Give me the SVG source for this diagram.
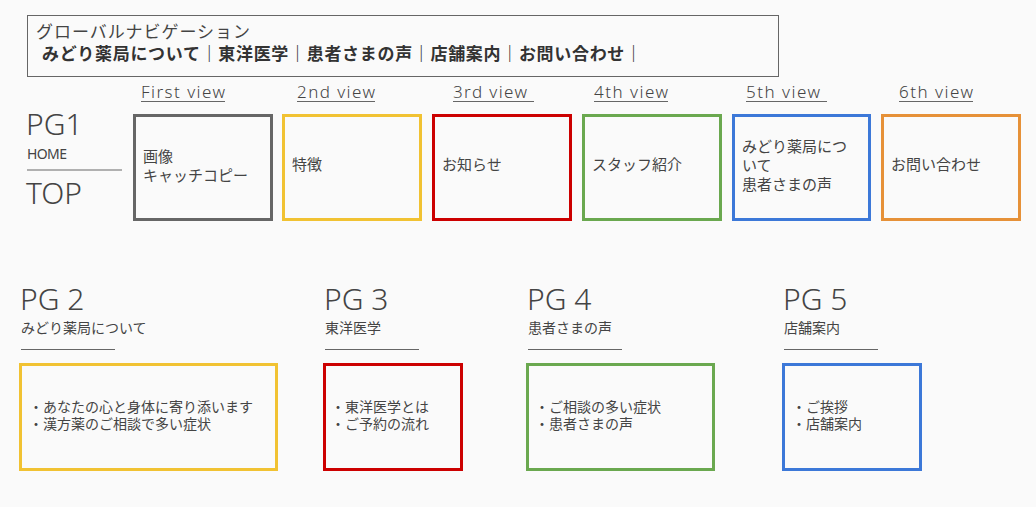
<svg xmlns="http://www.w3.org/2000/svg" width="1036" height="507" viewBox="0 0 1036 507">
<style>
text{font-family:"Noto Sans","Noto Sans CJK JP",sans-serif;fill:#444}
.jp{font-family:"Noto Sans CJK JP",sans-serif}
.nav{font-size:17px}
.navb{font-size:17px;font-weight:bold;fill:#333}
.pg{font-size:30px;font-weight:300}
.vl{font-size:17px;font-weight:300}
.bt{font-size:15px}
.st{font-size:14px}
.ln{stroke:#666;stroke-width:1.2}
.box{fill:none;stroke-width:3}
.gray{stroke:#666}.yel{stroke:#f1c232}.red{stroke:#cc0000}.grn{stroke:#6aa84f}.blu{stroke:#3c78d8}.org{stroke:#e69138}
</style>
<rect width="1036" height="507" fill="#fafafa"/>
<g id="nav">
<rect x="27.5" y="15.5" width="751" height="61" fill="none" stroke="#666" stroke-width="1"/>
<text class="nav jp" x="36" y="38" textLength="214">グローバルナビゲーション</text>
<text class="navb jp" x="42" y="60" textLength="600">みどり薬局について｜東洋医学｜患者さまの声｜店舗案内｜お問い合わせ｜</text>
</g>
<g id="pg1">
<text class="pg" x="26" y="135">PG1</text>
<text x="27" y="159" font-size="14" textLength="40">HOME</text>
<line class="ln" x1="27" y1="170" x2="122" y2="170"/>
<text class="pg" x="26" y="204">TOP</text>
</g>
<g id="labels">
<text class="vl" x="141" y="98" textLength="84">First view</text>
<line class="ln" x1="141" y1="101.5" x2="225" y2="101.5"/>
<text class="vl" x="297" y="98" textLength="78">2nd view</text>
<line class="ln" x1="297" y1="101.5" x2="375" y2="101.5"/>
<text class="vl" x="453" y="98" textLength="74">3rd view</text>
<line class="ln" x1="453" y1="101.5" x2="534" y2="101.5"/>
<text class="vl" x="594" y="98" textLength="74">4th view</text>
<line class="ln" x1="594" y1="101.5" x2="668" y2="101.5"/>
<text class="vl" x="746" y="98" textLength="74">5th view</text>
<line class="ln" x1="746" y1="101.5" x2="827" y2="101.5"/>
<text class="vl" x="899" y="98" textLength="74">6th view</text>
<line class="ln" x1="899" y1="101.5" x2="973" y2="101.5"/>
</g>
<g id="v1"><rect class="box gray" x="134.5" y="115.5" width="137" height="104"/>
<text class="bt jp" x="143" y="162">画像</text><text class="bt jp" x="143" y="181">キャッチコピー</text></g>
<g id="v2"><rect class="box yel" x="283.5" y="115.5" width="137" height="104"/>
<text class="bt jp" x="292" y="170">特徴</text></g>
<g id="v3"><rect class="box red" x="433.5" y="115.5" width="137" height="104"/>
<text class="bt jp" x="442" y="170">お知らせ</text></g>
<g id="v4"><rect class="box grn" x="583.5" y="115.5" width="137" height="104"/>
<text class="bt jp" x="592" y="170">スタッフ紹介</text></g>
<g id="v5"><rect class="box blu" x="733.5" y="115.5" width="136" height="104"/>
<text class="bt jp" x="742" y="152">みどり薬局につ</text><text class="bt jp" x="742" y="171">いて</text><text class="bt jp" x="742" y="190">患者さまの声</text></g>
<g id="v6"><rect class="box org" x="882.5" y="115.5" width="137" height="104"/>
<text class="bt jp" x="891" y="170">お問い合わせ</text></g>
<g id="pg2">
<text class="pg" x="20" y="310">PG 2</text>
<text class="st jp" x="21" y="333">みどり薬局について</text>
<line class="ln" x1="21" y1="349.5" x2="115" y2="349.5"/>
<rect class="box yel" x="20.5" y="364.5" width="256" height="105"/>
<text class="st jp" x="29" y="412">・あなたの心と身体に寄り添います</text>
<text class="st jp" x="29" y="429">・漢方薬のご相談で多い症状</text>
</g>
<g id="pg3">
<text class="pg" x="324" y="310">PG 3</text>
<text class="st jp" x="325" y="333">東洋医学</text>
<line class="ln" x1="325" y1="349.5" x2="419" y2="349.5"/>
<rect class="box red" x="324.5" y="364.5" width="137" height="105"/>
<text class="st jp" x="331" y="412">・東洋医学とは</text>
<text class="st jp" x="331" y="429">・ご予約の流れ</text>
</g>
<g id="pg4">
<text class="pg" x="527" y="310">PG 4</text>
<text class="st jp" x="528" y="333">患者さまの声</text>
<line class="ln" x1="528" y1="349.5" x2="622" y2="349.5"/>
<rect class="box grn" x="527.5" y="364.5" width="186" height="105"/>
<text class="st jp" x="535" y="412">・ご相談の多い症状</text>
<text class="st jp" x="535" y="429">・患者さまの声</text>
</g>
<g id="pg5">
<text class="pg" x="783" y="310">PG 5</text>
<text class="st jp" x="784" y="333">店舗案内</text>
<line class="ln" x1="784" y1="349.5" x2="878" y2="349.5"/>
<rect class="box blu" x="783.5" y="364.5" width="137" height="105"/>
<text class="st jp" x="792" y="412">・ご挨拶</text>
<text class="st jp" x="792" y="429">・店舗案内</text>
</g>
</svg>
